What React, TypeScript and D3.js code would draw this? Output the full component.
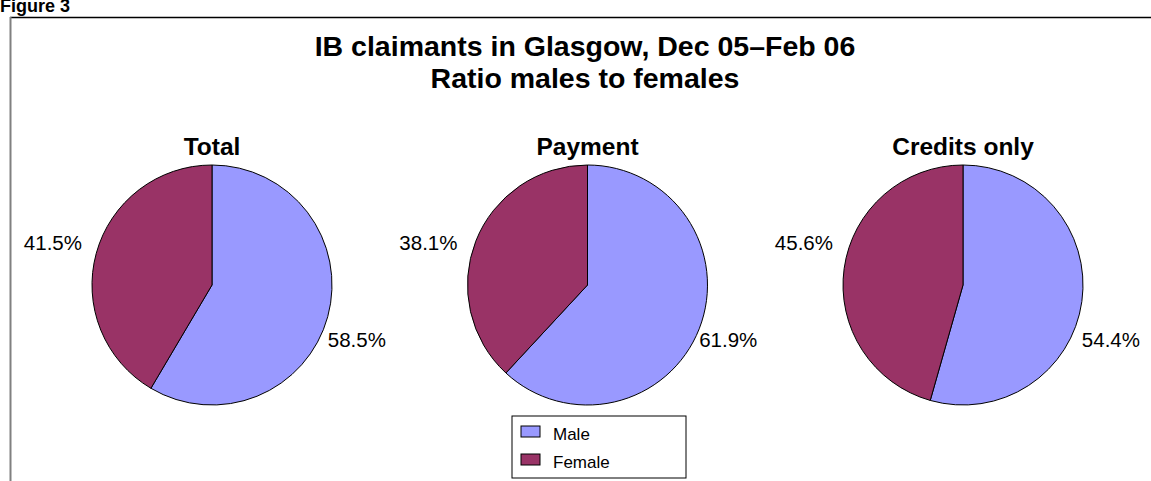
import React from "react";
import * as d3 from "d3";

const chartTitle = ["IB claimants in Glasgow, Dec 05\u2013Feb 06", "Ratio males to females"];
const figureLabel = "Figure 3";
const panels = ["Total", "Payment", "Credits only"];
const seriesNames = ["Male", "Female"];
const maleShare = [58.5, 61.9, 54.4];
const femaleShare = [41.5, 38.1, 45.6];
const colors = ["#9999FF", "#993366"];

const W = 1151;
const H = 481;
const FONT = "'Liberation Sans', Arial, sans-serif";

export default function App() {
  const radius = 120;
  const cy = 285;
  const xPos = d3.scalePoint<string>().domain(panels).range([212, 963]);
  const pie = d3.pie<number>().sort(null).value((d) => d);
  const arc = d3.arc<d3.PieArcDatum<number>>().innerRadius(0).outerRadius(radius);

  return (
    <svg
      width={W}
      height={H}
      style={{ position: "absolute", left: 0, top: 0, background: "#fff" }}
      fontFamily={FONT}
    >
      <text x={0} y={12} fontSize={18} fontWeight="bold" fill="#000">
        {figureLabel}
      </text>
      <line x1={10} y1={17.5} x2={W} y2={17.5} stroke="#000" strokeWidth={1.5} />
      <line x1={10.5} y1={17} x2={10.5} y2={H} stroke="#808080" strokeWidth={2} />

      {chartTitle.map((t, i) => (
        <text
          key={t}
          x={585}
          y={56 + i * 32}
          textAnchor="middle"
          fontSize={28.5}
          fontWeight="bold"
          fill="#000"
        >
          {t}
        </text>
      ))}

      {panels.map((p, i) => {
        const cx = xPos(p) as number;
        const arcs = pie([maleShare[i], femaleShare[i]]);
        return (
          <g key={p}>
            <text
              x={cx}
              y={cy - radius - 10}
              textAnchor="middle"
              fontSize={24.5}
              fontWeight="bold"
              fill="#000"
            >
              {p}
            </text>
            <g transform={`translate(${cx},${cy})`}>
              {arcs.map((a, j) => (
                <path
                  key={j}
                  d={arc(a) as string}
                  fill={colors[j]}
                  stroke="#000"
                  strokeWidth={1}
                />
              ))}
              {arcs.map((a, j) => {
                const mid = (a.startAngle + a.endAngle) / 2;
                const sx = Math.sin(mid) * radius;
                const right = sx >= 0;
                const lx = right ? sx : -radius - 10;
                const ly = right ? 55 : -42;
                return (
                  <text
                    key={"l" + j}
                    x={lx}
                    y={ly}
                    dy="0.35em"
                    textAnchor={right ? "start" : "end"}
                    fontSize={20.5}
                    fill="#000"
                  >
                    {`${a.data.toFixed(1)}%`}
                  </text>
                );
              })}
            </g>
          </g>
        );
      })}

      <g transform="translate(512,416)">
        <rect width={174} height={62} fill="#fff" stroke="#000" strokeWidth={1} />
        {seriesNames.map((s, i) => (
          <g key={s} transform={`translate(9,${10 + i * 28})`}>
            <rect width={19} height={11} fill={colors[i]} stroke="#000" strokeWidth={1} />
            <text x={32} y={14} fontSize={17} fill="#000">
              {s}
            </text>
          </g>
        ))}
      </g>
    </svg>
  );
}
